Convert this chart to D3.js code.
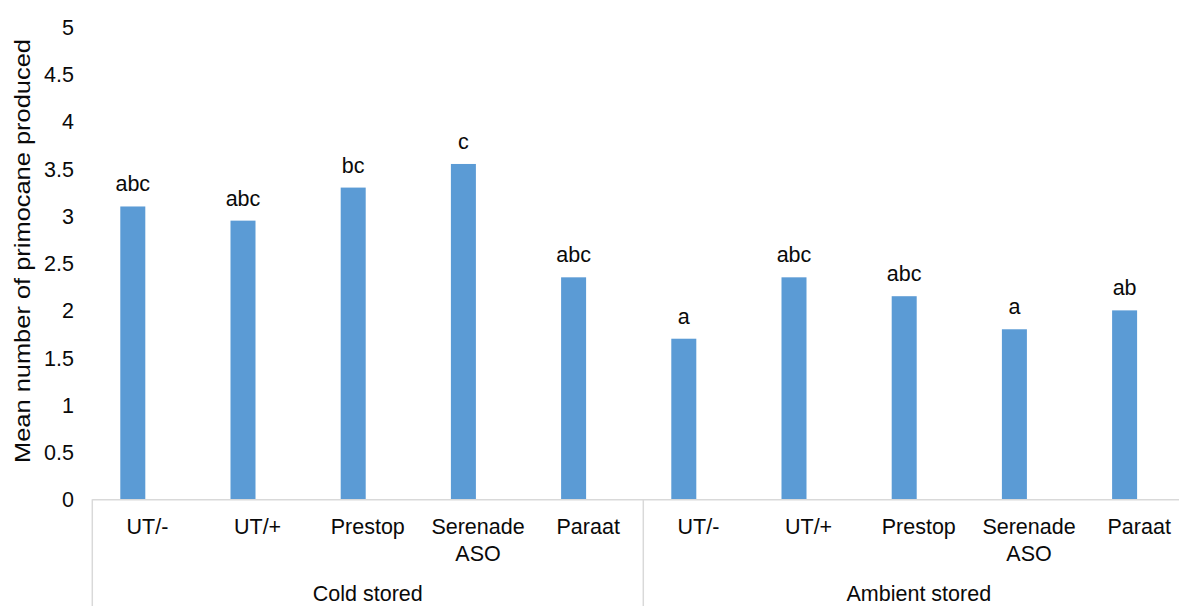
<!DOCTYPE html>
<html>
<head>
<meta charset="utf-8">
<script src="https://cdn.jsdelivr.net/npm/d3@7"></script>
<style>
  html, body { margin: 0; padding: 0; background: #fff; }
  svg { display: block; font-family: "Liberation Sans", Arial, sans-serif; }
</style>
</head>
<body>
<svg id="chart" width="1179" height="606"></svg>
<script>
// Treatments within each storage group
const treatments = ["UT/-", "UT/+", "Prestop", "Serenade ASO", "Paraat"];
const groups = ["Cold stored", "Ambient stored"];
// Mean primocanes per treatment, in group order
const coldValues = [3.1, 2.95, 3.3, 3.55, 2.35];
const ambientValues = [1.7, 2.35, 2.15, 1.8, 2.0];
// Significance letters shown above each bar
const coldLetters = ["abc", "abc", "bc", "c", "abc"];
const ambientLetters = ["a", "abc", "abc", "a", "ab"];
const yTicks = [0, 0.5, 1, 1.5, 2, 2.5, 3, 3.5, 4, 4.5, 5];
const yTitle = "Mean number of primocane produced";

const rows = [];
[coldValues, ambientValues].forEach((vals, g) => {
  vals.forEach((v, i) => rows.push({
    id: g * treatments.length + i,
    group: g,
    name: treatments[i],
    value: v,
    letter: (g === 0 ? coldLetters : ambientLetters)[i]
  }));
});

const svg = d3.select("#chart");
const plotLeft = 92.3, bandW = 110.2;
const plotBottom = 499.3, plotTop = 27;

const x = d3.scaleBand()
  .domain(rows.map(d => d.id))
  .range([plotLeft, plotLeft + bandW * rows.length])
  .paddingInner(0).paddingOuter(0);
const y = d3.scaleLinear().domain([0, 5]).range([plotBottom, plotTop]);

const barW = 25;
const barOffset = 28;
const fontSize = 21.5;
const ink = "#0a0a0a";

// Bars
svg.append("g").selectAll("rect").data(rows).join("rect")
  .attr("x", d => x(d.id) + barOffset)
  .attr("width", barW)
  .attr("y", d => y(d.value))
  .attr("height", d => y(0) - y(d.value))
  .attr("fill", "#5b9bd5");

// Letters above bars
svg.append("g").selectAll("text").data(rows).join("text")
  .attr("x", d => x(d.id) + barOffset + barW / 2)
  .attr("y", d => y(d.value) - 15)
  .attr("text-anchor", "middle")
  .attr("font-size", fontSize)
  .attr("fill", ink)
  .text(d => d.letter);

// Y axis tick labels (no axis line)
const yAxis = d3.axisLeft(y).tickValues(yTicks).tickSize(0).tickPadding(0)
  .tickFormat(d3.format("~g"));
const yg = svg.append("g").attr("transform", `translate(74,0)`).call(yAxis);
yg.select(".domain").remove();
yg.selectAll("text").attr("font-size", fontSize).attr("fill", ink)
  .attr("font-family", "Liberation Sans, Arial, sans-serif")
  .attr("dy", "0.35em");

// Y axis title
svg.append("text")
  .attr("transform", `translate(30,${(26 + 476) / 2}) rotate(-90)`)
  .attr("text-anchor", "middle")
  .attr("font-size", 22)
  .attr("fill", ink)
  .attr("textLength", 424)
  .attr("lengthAdjust", "spacingAndGlyphs")
  .text(yTitle);

// Category axis frame: baseline plus group dividers
const lineColor = "#d9d9d9";
svg.append("line")
  .attr("x1", plotLeft).attr("x2", 1179)
  .attr("y1", plotBottom + 0.5).attr("y2", plotBottom + 0.5)
  .attr("stroke", lineColor).attr("stroke-width", 1.5);
const dividers = d3.range(groups.length + 1).map(g => g * treatments.length);
svg.append("g").selectAll("line").data(dividers).join("line")
  .attr("x1", i => (i < rows.length ? x(i) : x(rows.length - 1) + bandW))
  .attr("x2", i => (i < rows.length ? x(i) : x(rows.length - 1) + bandW))
  .attr("y1", plotBottom).attr("y2", 606)
  .attr("stroke", lineColor).attr("stroke-width", 1.5);

// Treatment labels (wrapped on spaces)
const catG = svg.append("g").selectAll("text").data(rows).join("text")
  .attr("text-anchor", "middle")
  .attr("font-size", fontSize)
  .attr("fill", ink);
catG.each(function(d) {
  const t = d3.select(this);
  d.name.split(" ").forEach((w, k) => {
    t.append("tspan")
      .attr("x", x(d.id) + bandW / 2)
      .attr("y", 534 + k * 26.7)
      .text(w);
  });
});

// Group labels
svg.append("g").selectAll("text").data(groups).join("text")
  .attr("x", (g, i) => x(i * treatments.length) + bandW * treatments.length / 2)
  .attr("y", 601)
  .attr("text-anchor", "middle")
  .attr("font-size", fontSize)
  .attr("fill", ink)
  .text(g => g);
</script>
</body>
</html>
